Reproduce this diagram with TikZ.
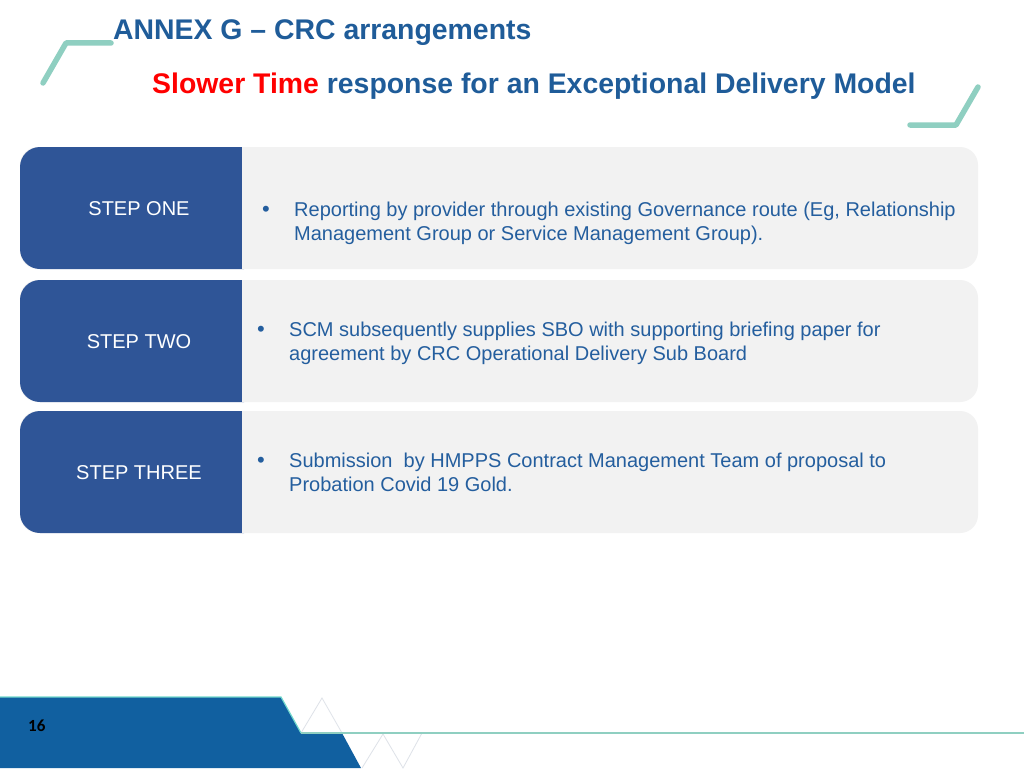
\documentclass[tikz,border=0pt]{standalone}
\usepackage{fontspec}
\setmainfont{Liberation Sans}
\newfontfamily\pagefont{Carlito}
\definecolor{titleblue}{RGB}{31,92,153}
\definecolor{bodyblue}{RGB}{36,94,158}
\definecolor{stepblue}{RGB}{47,85,151}
\definecolor{panelgray}{RGB}{242,242,242}
\definecolor{tealdeco}{RGB}{143,207,193}
\definecolor{bandblue}{RGB}{17,96,160}
\definecolor{tripale}{RGB}{222,226,232}
\tikzset{
  deco/.style={draw=tealdeco, line width=5.5pt, line cap=round, line join=round},
  panel/.style={fill=panelgray, rounded corners=18pt},
  stepfill/.style={fill=stepblue, rounded corners=20pt},
  steplabel/.style={text=white, font=\fontsize{20}{24}\selectfont, inner sep=0pt},
  bodyline/.style={anchor=base west, text=bodyblue, font=\fontsize{20}{24}\selectfont, inner sep=0pt},
  bulletmark/.style={anchor=base, text=bodyblue, font=\fontsize{22}{24}\selectfont, inner sep=0pt},
  faint/.style={draw=tripale, line width=0.8pt}
}
\begin{document}
\begin{tikzpicture}[x=1pt,y=-1pt]
\useasboundingbox (0,0) rectangle (1024,768);
\fill[white] (0,0) rectangle (1024,768);

% decorations
\draw[deco] (43,83) -- (66,43) -- (111,43);
\draw[deco] (910,125) -- (956,125) -- (978,87);

% titles
\node[anchor=base west, inner sep=0pt, text=titleblue, font=\fontsize{28.4}{32}\selectfont\bfseries] (title) at (113,40) {ANNEX G -- CRC arrangements};
\node[anchor=base west, inner sep=0pt, text=titleblue, font=\fontsize{28.4}{32}\selectfont\bfseries] (subtitle) at (152,93) {\textcolor{red}{Slower Time} response for an Exceptional Delivery Model};

% step panels
\foreach \t/\b in {147/269, 280/402, 411/533}{
  \fill[panel] (20,\t) rectangle (978,\b);
  \fill[stepfill] (20,\t) rectangle (264,\b);
  \fill[panelgray] (242,\t) rectangle (290,\b);
}

\node[steplabel] (one) at (139,209) {STEP ONE};
\node[steplabel] (two) at (139,342) {STEP TWO};
\node[steplabel] (three) at (139,473) {STEP THREE};

\node[bulletmark] (b1) at (266,216) {•};
\node[bodyline] (t1a) at (294,216) {Reporting by provider through existing Governance route (Eg, Relationship};
\node[bodyline] (t1b) at (294,240) {Management Group or Service Management Group).};

\node[bulletmark] (b2) at (261,336.5) {•};
\node[bodyline] (t2a) at (289,336.5) {SCM subsequently supplies SBO with supporting briefing paper for};
\node[bodyline] (t2b) at (289,360.5) {agreement by CRC Operational Delivery Sub Board};

\node[bulletmark] (b3) at (261,467.5) {•};
\node[bodyline] (t3a) at (289,467.5) {Submission\ \ by HMPPS Contract Management Team of proposal to};
\node[bodyline] (t3b) at (289,491.5) {Probation Covid 19 Gold.};

% bottom band
\draw[faint] (301,733) -- (322,698) -- (342,733);
\draw[faint] (362,768) -- (383,734) -- (403,768) -- (422,733);
\fill[bandblue] (0,697) -- (281,697) -- (301,733) -- (342,733) -- (361,768) -- (0,768) -- cycle;
\draw[draw=tealdeco!80!cyan, line width=1.2pt] (0,697) -- (281,697) -- (301,733);
\draw[draw=tealdeco, line width=1.5pt] (301,733) -- (1024,733);
\node[anchor=base west, inner sep=0pt, font=\pagefont\bfseries\fontsize{17}{20}\selectfont] (page) at (28,731) {16};
\end{tikzpicture}
\end{document}
